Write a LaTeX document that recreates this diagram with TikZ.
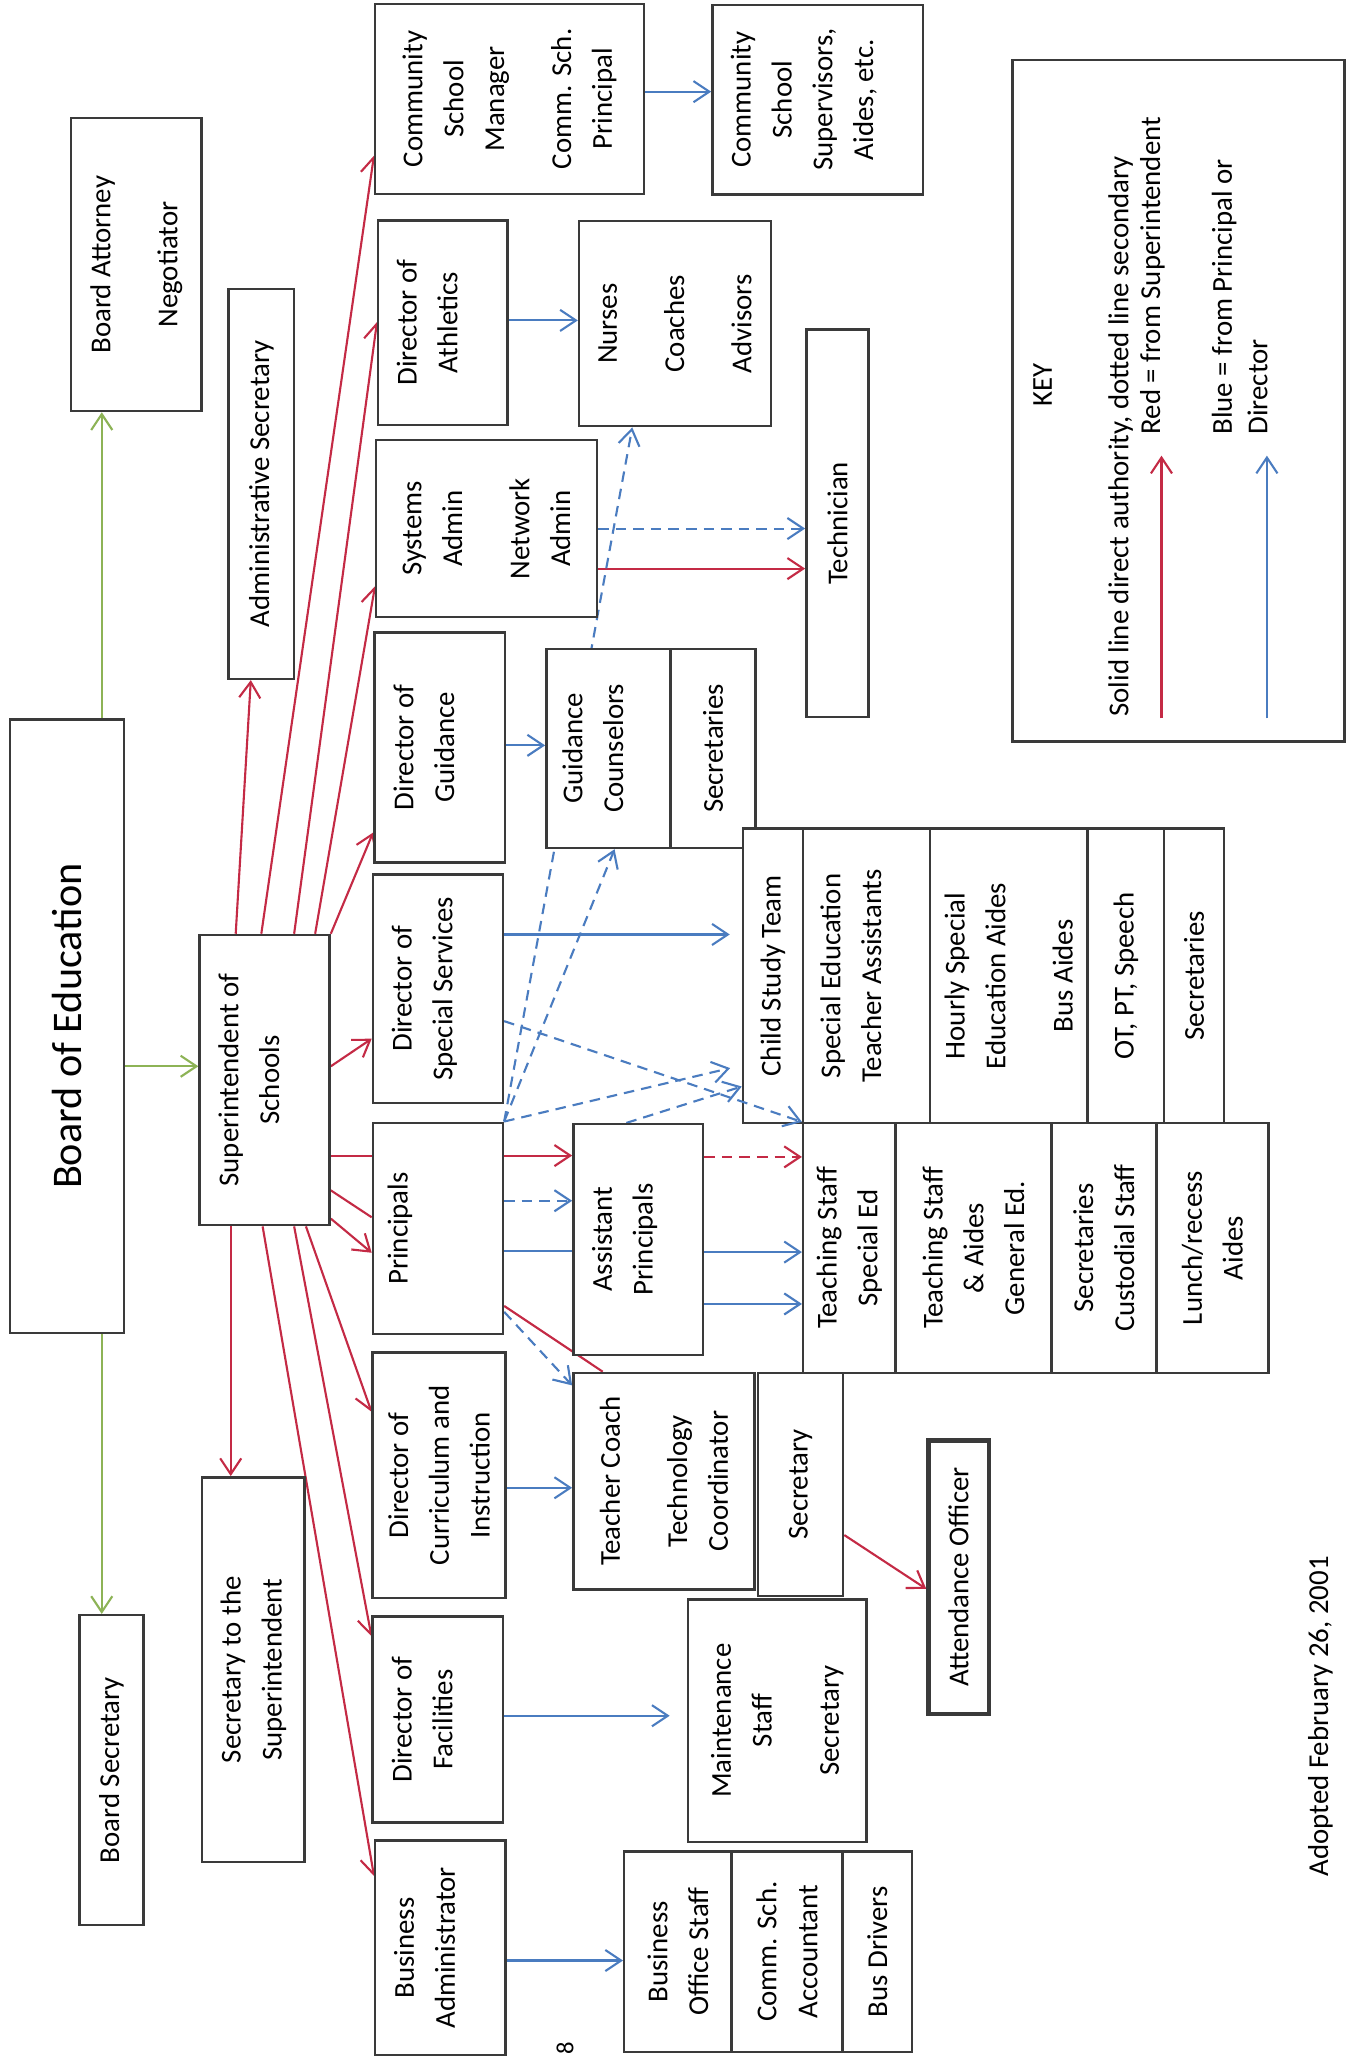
\documentclass[tikz,border=0pt]{standalone}
\usepackage{fontspec}
\setmainfont{Carlito}
\usetikzlibrary{arrows.meta}
\newcommand{\pxu}{0.13126mm}
\definecolor{orgred}{HTML}{C42A45}
\definecolor{orgblue}{HTML}{4A7CC0}
\definecolor{orggreen}{HTML}{8DB356}
\definecolor{orgline}{HTML}{3A3A3A}
\pgfdeclarelayer{paper}
\pgfdeclarelayer{links}
\pgfsetlayers{paper,links,main}

\begin{document}
\begin{tikzpicture}[
  x=\pxu, y=-\pxu,
  box/.style={draw=orgline, fill=white, line width=0.7pt, rotate=90,
    inner sep=0pt, align=center, font=\fontsize{8.2}{11.6}\selectfont},
  sz/.style 2 args={minimum width=#1*\pxu, minimum height=#2*\pxu},
  topset/.style={text depth=9pt},
  orgtip/.style={-{Straight Barb[length=4.5pt,width=6pt]}},
  grn/.style={orggreen, line width=0.6pt, orgtip},
  rd/.style={orgred, line width=0.6pt, orgtip},
  rdline/.style={orgred, line width=0.6pt},
  bl/.style={orgblue, line width=0.6pt, orgtip},
  blline/.style={orgblue, line width=0.6pt},
  dash2/.style={dash pattern=on 3pt off 2pt},
  keytext/.style={rotate=90, inner sep=0pt, font=\fontsize{8.2}{11.6}\selectfont}
]
  \begin{pgfonlayer}{paper}
  \fill[white] (0,0) rectangle (1027,1568);
  \end{pgfonlayer}
  \useasboundingbox (0,0) rectangle (1027,1568);

  % ---- board and superintendent ---------------------------------------
  \node[box, sz={467}{87}, font=\fontsize{12}{14}\selectfont] (boe) at (51,781.5) {Board of Education};
  \node[box, sz={223}{99.6}] (atty) at (103.8,201.5) {Board Attorney\\[7.5pt]Negotiator};
  \node[box, sz={236}{48.8}] (bsec) at (84.8,1348) {Board Secretary};
  \node[box, sz={297}{50}] (adsec) at (199,368.5) {Administrative Secretary};
  \node[box, sz={221}{99}, topset] (supt) at (201.5,822.5) {Superintendent of\\Schools};
  \node[box, sz={293}{78}] (ssec) at (193,1271.5) {Secretary to the\\Superintendent};

  % ---- directors column and their staff -------------------------------
  \node[box, sz={144.5}{204.8}] (csm) at (388.1,75.3) {Community\\School\\Manager\\[7.5pt]Comm. Sch.\\Principal};
  \node[box, sz={144.3}{160.5}, topset] (csup) at (622.8,75.9) {Community\\School\\Supervisors,\\Aides, etc.};
  \node[box, sz={155.7}{98.6}, topset] (dath) at (337.3,245.7) {Director of\\Athletics};
  \node[box, sz={156.1}{146}] (nca) at (514,246.5) {Nurses\\[7.5pt]Coaches\\[7.5pt]Advisors};
  \node[box, sz={135}{168}] (sys) at (370.5,402.5) {Systems\\Admin\\[7.5pt]Network\\Admin};
  \node[box, sz={295}{47.5}] (tech) at (637.8,398.5) {Technician};
  \node[box, sz={175.1}{99.5}, topset] (dgui) at (334.8,569.2) {Director of\\Guidance};
  \node[box, sz={151.7}{94.7}, topset] (gcou) at (463.4,569.9) {Guidance\\Counselors};
  \node[box, sz={151.7}{64.7}] (gsec) at (543.1,569.9) {Secretaries};
  \node[box, sz={174}{99}, topset] (dss) at (333.5,753) {Director of\\Special Services};
  \node[box, sz={161}{99}, text depth=23pt] (prin) at (333.5,935.5) {Principals};
  \node[box, sz={175.7}{98.7}, topset] (ap) at (486,943.9) {Assistant\\Principals};
  \node[box, sz={187}{101}] (dci) at (334.3,1123.5) {Director of\\Curriculum and\\Instruction};
  \node[box, sz={164.8}{138.1}] (tcc) at (505.7,1127.9) {Teacher Coach\\[7.5pt]Technology\\Coordinator};
  \node[box, sz={170}{64.7}] (tsec) at (609.7,1130.5) {Secretary};
  \node[box, sz={208}{46}, line width=1.2pt] (att) at (730,1201) {Attendance Officer};
  \node[box, sz={157}{99.2}, topset] (dfac) at (333.4,1309.5) {Director of\\Facilities};
  \node[box, sz={184.6}{136.2}] (mnt) at (591.9,1310.3) {Maintenance\\Staff\\[7.5pt]Secretary};
  \node[box, sz={163.3}{99.1}, topset] (badm) at (335.3,1483.4) {Business\\Administrator};
  \node[box, sz={152.6}{81.6}] (bos) at (516.2,1486.3) {Business\\Office Staff};
  \node[box, sz={152.6}{84.5}] (csa) at (599.3,1486.3) {Comm. Sch.\\Accountant};
  \node[box, sz={152.6}{53.1}] (bdr) at (668.1,1486.3) {Bus Drivers};

  % ---- special services block -----------------------------------------
  \node[box, sz={224.3}{45.8}] (cst) at (588.7,743.2) {Child Study Team};
  \node[box, sz={224.3}{96.6}, topset] (seta) at (659.9,743.2) {Special Education\\Teacher Assistants};
  \node[box, sz={224.3}{119.9}] (hsea) at (768.2,743.2) {Hourly Special\\Education Aides\\[7.5pt]Bus Aides};
  \node[box, sz={224.3}{58.5}] (otpt) at (857.4,743.2) {OT, PT, Speech};
  \node[box, sz={224.3}{45.4}] (csec) at (909.3,743.2) {Secretaries};

  % ---- building staff block -------------------------------------------
  \node[box, sz={190.2}{70.3}] (tse) at (646.8,950.4) {Teaching Staff\\Special Ed};
  \node[box, sz={190.2}{118.8}] (tge) at (741.3,950.4) {Teaching Staff\\\& Aides\\General Ed.};
  \node[box, sz={190.2}{79.8}] (scs) at (840.6,950.4) {Secretaries\\Custodial Staff};
  \node[box, sz={190.2}{85.5}] (lra) at (923.3,950.4) {Lunch/recess\\Aides};

  % ---- key ------------------------------------------------------------
  \node[box, sz={519.1}{252.8}] (key) at (897.4,305.1) {};
  \node[keytext] (keyhead) at (794,293.5) {KEY};
  \node[keytext] (keysolid) at (853.4,332.3) {Solid line direct authority, dotted line secondary};
  \node[keytext, anchor=west] (keyred) at (877.7,331.4) {Red = from Superintendent};
  \node[keytext, anchor=west] (keyblue) at (932.3,331.4) {Blue = from Principal or};
  \node[keytext, anchor=west] (keydir) at (957.6,331.4) {Director};
  \draw[rd] (884.5,547) -- (884.5,347);
  \draw[bl] (964.8,547) -- (964.8,347);

  \node[keytext] (adopted) at (1005.6,1307) {Adopted February 26, 2001};
  \node[keytext, font=\fontsize{7}{8}\selectfont] (pageno) at (430.4,1560) {8};

  % this one runs over the child study team box
  \draw[bl, dash2] (dss.south |- 0,777.6) -- (tse.north east);

  \begin{pgfonlayer}{links}
  % green, from the board
  \draw[grn] (boe.east -| 77.5,0) -- (atty.west -| 77.5,0);
  \draw[grn] (boe.west -| 77.5,0) -- (bsec.east -| 77.5,0);
  \draw[grn] (boe.south |- 0,812) -- (supt.north |- 0,812);

  % red, from the superintendent
  \draw[rd] (supt.east -| 179.5,0) -- (adsec.west -| 191,0);
  \draw[rd] (supt.east -| 199,0) -- (csm.north |- 0,118.6);
  \draw[rd] (supt.east -| 224,0) -- (dath.north |- 0,245.3);
  \draw[rd] (supt.east -| 240,0) -- (sys.north |- 0,446.5);
  \draw[rd] (supt.south east) -- (dgui.north |- 0,634);
  \draw[rd] (supt.south |- 0,812) -- (dss.north |- 0,791);
  \draw[rdline] (supt.south |- 0,880) -- (prin.north |- 0,880);
  \draw[rdline] (supt.south |- 0,906.5) -- (prin.north |- 0,927);
  \draw[rd] (supt.south |- 0,928) -- (prin.north |- 0,954);
  \draw[rd] (supt.west -| 233,0) -- (dci.north |- 0,1075);
  \draw[rd] (supt.west -| 224,0) -- (dfac.north |- 0,1246);
  \draw[rd] (supt.west -| 200,0) -- (badm.north |- 0,1428.6);
  \draw[rd] (supt.west -| 175.7,0) -- (ssec.east -| 175.7,0);

  % red, further down
  \draw[rd] (prin.south |- 0,880) -- (ap.north |- 0,880);
  \draw[rdline] (prin.south |- 0,994.5) -- (tcc.east -| 459,0);
  \draw[rd] (sys.south |- 0,433) -- (tech.north |- 0,433);
  \draw[rd] (tsec.south |- 0,1169) -- (att.north |- 0,1210);
  \draw[rd, dash2] (ap.south |- 0,881) -- (tse.north |- 0,881);

  % blue, solid
  \draw[bl] (csm.south |- 0,69.8) -- (csup.north |- 0,69.8);
  \draw[bl] (dath.south |- 0,244) -- (nca.north |- 0,244);
  \draw[bl] (dgui.south |- 0,567.6) -- (gcou.north |- 0,567.6);
  \draw[bl, shorten >=3.4pt] (dss.south |- 0,711.6) -- (cst.north |- 0,711.6);
  \draw[blline] (prin.south |- 0,953) -- (ap.north |- 0,953);
  \draw[bl] (ap.south |- 0,953.5) -- (tse.north |- 0,953.5);
  \draw[bl] (ap.south |- 0,993) -- (tse.north |- 0,993);
  \draw[bl] (dci.south |- 0,1133) -- (tcc.north |- 0,1133);
  \draw[bl, shorten >=4.8pt] (dfac.south |- 0,1306.6) -- (mnt.north |- 0,1306.6);
  \draw[bl] (badm.south |- 0,1493) -- (bos.north |- 0,1493);

  % blue, dashed
  \draw[bl, dash2] (prin.south east) -- (nca.west -| 481.5,0);
  \draw[bl, dash2] (prin.south east) -- (gcou.west -| 468,0);
  \draw[bl, dash2, shorten >=3.4pt] (prin.south east) -- (cst.north |- 0,811.3);
  \draw[bl, dash2] (ap.east -| 477,0) -- (cst.north |- 0,827.4);
  \draw[bl, dash2] (prin.south |- 0,914.4) -- (ap.north |- 0,914.4);
  \draw[bl, dash2] (prin.south |- 0,999) -- (tcc.north |- 0,1055);
  \draw[bl, dash2] (sys.south |- 0,402.5) -- (tech.north |- 0,402.5);
  \end{pgfonlayer}
\end{tikzpicture}
\end{document}
